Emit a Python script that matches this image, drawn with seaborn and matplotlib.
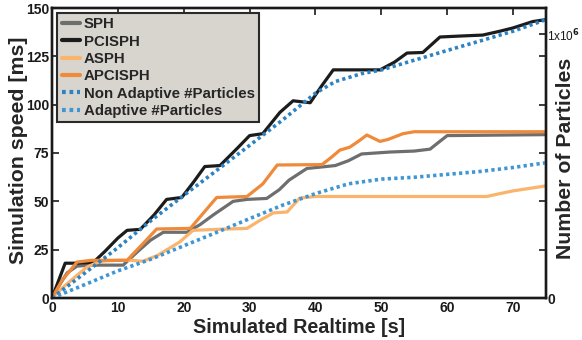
import matplotlib
matplotlib.use("Agg")
import matplotlib.pyplot as plt
import seaborn as sns
import pandas as pd
from matplotlib.lines import Line2D

# ---------------- data ----------------
sph_t = [0, 1, 2.3, 3.8, 6, 10.8, 13, 15, 16.9, 20.5, 22.5, 24.5, 26, 27.5, 29.6, 32.6,
         34.5, 36, 38.7, 43, 45, 47, 51.3, 55, 57.4, 58.5, 60, 75]
sph_v = [0, 6, 13, 16.5, 17, 17, 24, 30, 34, 34, 38, 43, 46.5, 50, 51, 51.5,
         56, 61, 67, 68.5, 71, 74.5, 75.5, 76, 77, 80, 84, 84.5]

pcisph_t = [0, 1, 2, 4, 6.3, 8, 10, 11.4, 13.4, 15.5, 17.4, 19.7, 21.5, 23.2, 25.5, 28,
            30, 32, 34.6, 36.6, 39.2, 41, 42.7, 45, 49.8, 52, 53.9, 56.3, 58.9, 62,
            65.4, 68, 70, 73, 75]
pcisph_v = [0, 9, 18, 18, 18.5, 24, 31, 35, 35.5, 43, 51, 52, 60, 68, 68.5, 77,
            84, 85, 96, 102, 101, 110, 118, 118, 118, 122, 126.7, 127, 135, 135.5,
            136, 138, 139.7, 143, 144]

asph_t = [0, 1.5, 3.2, 5.3, 7.3, 10, 12, 13.8, 16, 19.4, 21.4, 25, 29.6, 31.5, 33.6,
          35.7, 37.6, 40, 50, 60, 66, 68, 70, 75]
asph_v = [0, 5, 10, 16, 19, 19.5, 19.5, 19, 22, 29, 35, 35.5, 36, 40, 44,
          44.5, 51.7, 52.5, 52.5, 52.5, 52.5, 54, 55.4, 58]

apcisph_t = [0, 1.5, 3.8, 6, 11.4, 13.5, 15.9, 21, 23, 25, 29.6, 32, 34.2, 41, 42.5,
             43.7, 45.2, 46.5, 47.8, 49.8, 51, 53.3, 55, 75]
apcisph_v = [0, 9, 18.6, 19.5, 19.5, 27, 35.7, 36, 44, 52, 52.5, 59, 68.8, 69, 73,
             76.5, 78, 81, 84.3, 81, 82, 85, 86, 86]

nonad_t = [0, 5, 10, 15, 20, 25, 30, 35, 40, 43, 47, 50, 55, 60, 65, 70, 75]
nonad_n = [0, 95e3, 191e3, 293e3, 389e3, 484e3, 579e3, 675e3, 777e3, 821e3, 851e3,
           865e3, 902e3, 939e3, 975e3, 1012e3, 1056e3]

adapt_t = [0, 5, 10, 15, 20, 25, 30, 35, 40, 45, 50, 55, 60, 65, 70, 75]
adapt_n = [0, 51e3, 103e3, 147e3, 198e3, 249e3, 301e3, 352e3, 396e3, 433e3, 451e3,
           458e3, 469e3, 480e3, 495e3, 513e3]

x_ticks = [0, 10, 20, 30, 40, 50, 60, 70]
y_ticks = [0, 25, 50, 75, 100, 125, 150]

# ---------------- style ----------------
sns.set_theme(style="white")
plt.rcParams["font.family"] = ["Liberation Sans", "DejaVu Sans"]
plt.rcParams["font.weight"] = "bold"
plt.rcParams["axes.labelweight"] = "bold"

c_sph = "#6e6e6e"
c_pci = "#1c1c1c"
c_asph = "#fbb46c"
c_apci = "#ee8a3a"
c_non = "#2c83c4"
c_ad = "#3f96d4"

fig = plt.figure(figsize=(5.82, 3.40), dpi=100)
ax = fig.add_axes([52 / 582, 42 / 340, (546 - 52) / 582, (298 - 8) / 340])
ax2 = ax.twinx()

lw = 2.3
sns.lineplot(x=sph_t, y=sph_v, ax=ax, color=c_sph, lw=lw, sort=False, estimator=None)
sns.lineplot(x=pcisph_t, y=pcisph_v, ax=ax, color=c_pci, lw=lw, sort=False, estimator=None)
sns.lineplot(x=asph_t, y=asph_v, ax=ax, color=c_asph, lw=lw, sort=False, estimator=None)
sns.lineplot(x=apcisph_t, y=apcisph_v, ax=ax, color=c_apci, lw=lw, sort=False, estimator=None)

dot = (0, (0.9, 0.9))
sns.lineplot(x=nonad_t, y=nonad_n, ax=ax2, color=c_non, lw=2.6, linestyle=dot,
             sort=False, estimator=None)
sns.lineplot(x=adapt_t, y=adapt_n, ax=ax2, color=c_ad, lw=2.6, linestyle=dot,
             sort=False, estimator=None)

ax.set_xlim(0, 75)
ax.set_ylim(0, 150)
ax2.set_ylim(0, 1.1e6)
ax.set_xticks(x_ticks)
ax.set_yticks(y_ticks)
ax.set_xticklabels([str(v) for v in x_ticks], fontsize=10, fontweight="bold")
ax.set_yticklabels([str(v) for v in y_ticks], fontsize=10, fontweight="bold")
ax2.set_yticks([0, 1e6])
ax2.set_yticklabels(["0", r"1x10$^6$"], fontsize=8.5)
ax2.get_yticklabels()[0].set_fontweight("bold")
ax2.get_yticklabels()[0].set_fontsize(10)
ax2.get_yticklabels()[1].set_fontweight("normal")

ax.tick_params(direction="in", length=5, width=1.2, top=True, right=True,
               labelright=False, pad=2, colors="#1a1a1a")
ax2.tick_params(direction="in", length=5, width=1.2, pad=1, colors="#1a1a1a")

for a in (ax, ax2):
    for s in a.spines.values():
        s.set_linewidth(1.7)
        s.set_color("#1a1a1a")
        s.set_visible(True)

ax.set_xlabel("Simulated Realtime [s]", fontsize=14.2, fontweight="bold", labelpad=2)
ax.set_ylabel("Simulation speed [ms]", fontsize=15.3, fontweight="bold")
ax.yaxis.set_label_coords(-0.049, 0.51)
ax2.set_ylabel("Number of Particles", fontsize=15.3, fontweight="bold")
ax2.yaxis.set_label_coords(1.021, 0.48)

handles = [
    Line2D([], [], color=c_sph, lw=3),
    Line2D([], [], color=c_pci, lw=3),
    Line2D([], [], color=c_asph, lw=3),
    Line2D([], [], color=c_apci, lw=3),
    Line2D([], [], color=c_non, lw=3, linestyle=dot),
    Line2D([], [], color=c_ad, lw=3, linestyle=dot),
]
labels = ["SPH", "PCISPH", "ASPH", "APCISPH", "Non Adaptive #Particles", "Adaptive #Particles"]
leg = ax2.legend(handles, labels, loc="upper left", bbox_to_anchor=(0.011, 0.983),
                 fontsize=10.8, frameon=True, fancybox=False, framealpha=1,
                 facecolor="#d8d5cf", edgecolor="#2a2a2a", handlelength=1.2,
                 handletextpad=0.25, labelspacing=0.22, borderpad=0.3,
                 borderaxespad=0)
leg.get_frame().set_linewidth(1.5)
for t in leg.get_texts():
    t.set_fontweight("bold")

fig.savefig("out.png", dpi=100)
